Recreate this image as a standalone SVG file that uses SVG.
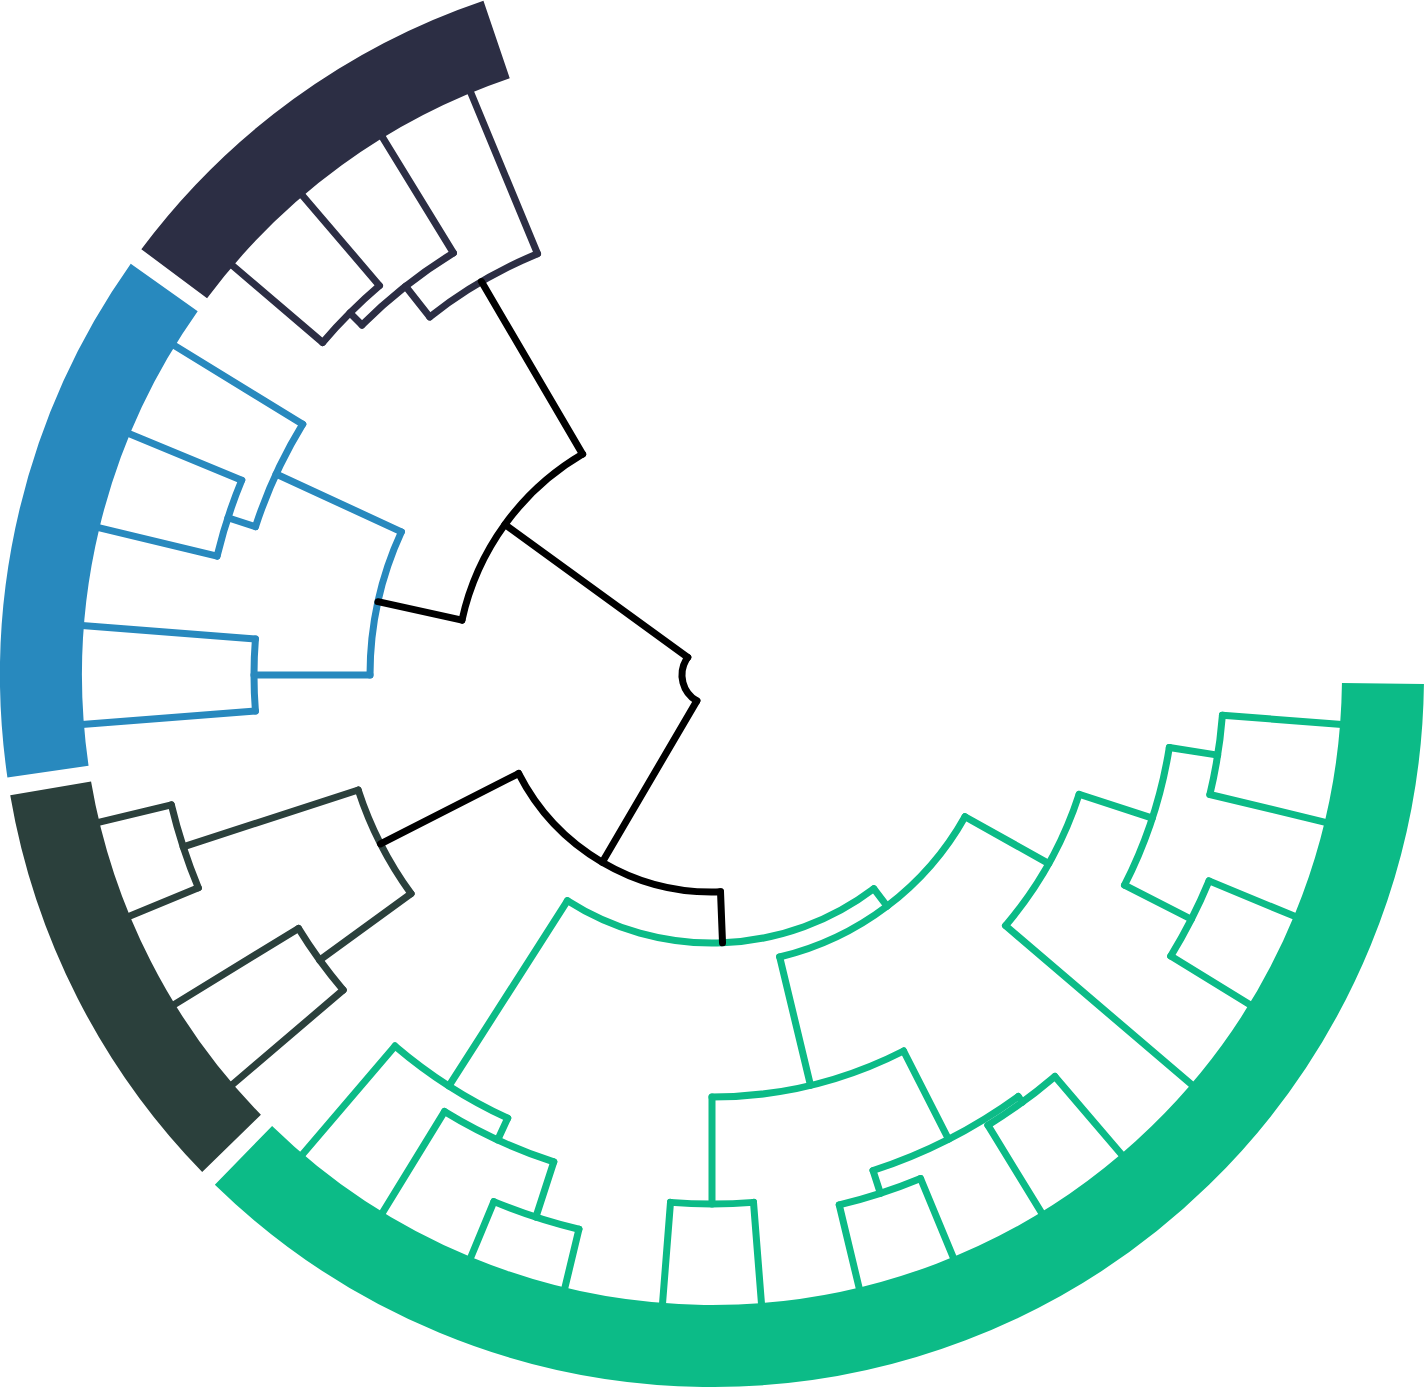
<svg xmlns="http://www.w3.org/2000/svg" width="1424" height="1387" viewBox="0 0 1424 1387">
<style>
.l{fill:none;stroke-width:7;stroke-linecap:round;stroke-linejoin:round}
.k{stroke:#000}.g{stroke:#0cbb87}.b{stroke:#2889be}.n{stroke:#2c2e44}.s{stroke:#2b403c}
.band{fill:none;stroke-width:82;stroke-linecap:butt}
</style>
<rect width="1424" height="1387" fill="#fff"/>
<g transform="translate(712,675)">
<g id="connectors">
<g id="links-green" class="l g">
<circle r="268" stroke-dasharray="326.25 9999" transform="rotate(52.875)"/>
<circle r="290" stroke-dasharray="239.15 9999" transform="rotate(29.25)"/>
<circle r="488" stroke-dasharray="134.15 9999" transform="rotate(114.75)"/>
<circle r="512" stroke-dasharray="120.64 9999" transform="rotate(108)"/>
<circle r="570" stroke-dasharray="89.54 9999" transform="rotate(103.5)"/>
<circle r="422" stroke-dasharray="198.86 9999" transform="rotate(63)"/>
<circle r="529" stroke-dasharray="83.10 9999" transform="rotate(85.5)"/>
<circle r="521" stroke-dasharray="163.68 9999" transform="rotate(54)"/>
<circle r="545" stroke-dasharray="85.61 9999" transform="rotate(67.5)"/>
<circle r="528" stroke-dasharray="82.94 9999" transform="rotate(49.5)"/>
<circle r="386" stroke-dasharray="151.58 9999" transform="rotate(18)"/>
<circle r="463" stroke-dasharray="145.46 9999" transform="rotate(9)"/>
<circle r="512" stroke-dasharray="80.42 9999" transform="rotate(4.5)"/>
<circle r="538" stroke-dasharray="84.51 9999" transform="rotate(22.5)"/>
<line x1="268" x2="290" transform="rotate(52.875)"/>
<line x1="268" x2="488" transform="rotate(122.625)"/>
<line x1="290" x2="422" transform="rotate(76.5)"/>
<line x1="290" x2="386" transform="rotate(29.25)"/>
<line x1="422" x2="529" transform="rotate(90)"/>
<line x1="422" x2="521" transform="rotate(63)"/>
<line x1="521" x2="545" transform="rotate(72)"/>
<line x1="521" x2="528" transform="rotate(54)"/>
<line x1="386" x2="463" transform="rotate(18)"/>
<line x1="386" x2="632" transform="rotate(40.5)"/>
<line x1="463" x2="512" transform="rotate(9)"/>
<line x1="463" x2="538" transform="rotate(27)"/>
<line x1="512" x2="632" transform="rotate(4.5)"/>
<line x1="512" x2="632" transform="rotate(13.5)"/>
<line x1="538" x2="632" transform="rotate(22.5)"/>
<line x1="538" x2="632" transform="rotate(31.5)"/>
<line x1="528" x2="632" transform="rotate(49.5)"/>
<line x1="528" x2="632" transform="rotate(58.5)"/>
<line x1="545" x2="632" transform="rotate(67.5)"/>
<line x1="545" x2="632" transform="rotate(76.5)"/>
<line x1="529" x2="632" transform="rotate(85.5)"/>
<line x1="529" x2="632" transform="rotate(94.5)"/>
<line x1="488" x2="512" transform="rotate(114.75)"/>
<line x1="488" x2="632" transform="rotate(130.5)"/>
<line x1="512" x2="570" transform="rotate(108)"/>
<line x1="512" x2="632" transform="rotate(121.5)"/>
<line x1="570" x2="632" transform="rotate(103.5)"/>
<line x1="570" x2="632" transform="rotate(112.5)"/>
</g>
<g id="links-slate" class="l s">
<circle r="372" stroke-dasharray="116.87 9999" transform="rotate(144)"/>
<circle r="556" stroke-dasharray="87.34 9999" transform="rotate(157.5)"/>
<circle r="485" stroke-dasharray="76.18 9999" transform="rotate(139.5)"/>
<line x1="372" x2="556" transform="rotate(162)"/>
<line x1="372" x2="485" transform="rotate(144)"/>
<line x1="485" x2="632" transform="rotate(139.5)"/>
<line x1="485" x2="632" transform="rotate(148.5)"/>
<line x1="556" x2="632" transform="rotate(157.5)"/>
<line x1="556" x2="632" transform="rotate(166.5)"/>
</g>
<g id="links-blue" class="l b">
<circle r="342" stroke-dasharray="147.73 9999" transform="rotate(180)"/>
<circle r="458" stroke-dasharray="71.94 9999" transform="rotate(175.5)"/>
<circle r="480" stroke-dasharray="113.10 9999" transform="rotate(198)"/>
<circle r="509" stroke-dasharray="79.95 9999" transform="rotate(193.5)"/>
<line x1="342" x2="458" transform="rotate(180)"/>
<line x1="342" x2="480" transform="rotate(204.75)"/>
<line x1="458" x2="632" transform="rotate(175.5)"/>
<line x1="458" x2="632" transform="rotate(184.5)"/>
<line x1="480" x2="509" transform="rotate(198)"/>
<line x1="480" x2="632" transform="rotate(211.5)"/>
<line x1="509" x2="632" transform="rotate(193.5)"/>
<line x1="509" x2="632" transform="rotate(202.5)"/>
</g>
<g id="links-navy" class="l n">
<circle r="456" stroke-dasharray="125.35 9999" transform="rotate(231.75)"/>
<circle r="495" stroke-dasharray="116.63 9999" transform="rotate(225)"/>
<circle r="512" stroke-dasharray="80.42 9999" transform="rotate(220.5)"/>
<line x1="456" x2="495" transform="rotate(231.75)"/>
<line x1="456" x2="632" transform="rotate(247.5)"/>
<line x1="495" x2="512" transform="rotate(225)"/>
<line x1="495" x2="632" transform="rotate(238.5)"/>
<line x1="512" x2="632" transform="rotate(220.5)"/>
<line x1="512" x2="632" transform="rotate(229.5)"/>
</g>
<g id="links-root" class="l k">
<circle r="30" stroke-dasharray="50.07 9999" transform="rotate(120.375)"/>
<circle r="256" stroke-dasharray="211.11 9999" transform="rotate(192.375)"/>
<circle r="217" stroke-dasharray="247.13 9999" transform="rotate(87.75)"/>
<line x1="30" x2="256" transform="rotate(216)"/>
<line x1="30" x2="217" transform="rotate(120.375)"/>
<line x1="217" x2="268" transform="rotate(87.75)"/>
<line x1="217" x2="372" transform="rotate(153)"/>
<line x1="256" x2="342" transform="rotate(192.375)"/>
<line x1="256" x2="456" transform="rotate(239.625)"/>
</g>
</g>
<g id="clade-green"><circle class="band" r="671" stroke="#0cbb87" stroke-dasharray="1564.0 9999" transform="rotate(0.726)"/></g>
<g id="clade-slate"><circle class="band" r="671" stroke="#2b403c" stroke-dasharray="404.60 9999" transform="rotate(135.726)"/></g>
<g id="clade-blue"><circle class="band" r="671" stroke="#2889be" stroke-dasharray="510.00 9999" transform="rotate(171.726)"/></g>
<g id="clade-navy"><circle class="band" r="671" stroke="#2c2e44" stroke-dasharray="404.60 9999" transform="rotate(216.726)"/></g>
</g>
</svg>
